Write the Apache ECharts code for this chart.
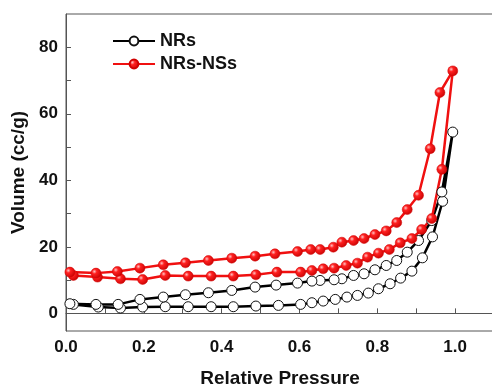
<!DOCTYPE html>
<html><head><meta charset="utf-8">
<script src="https://cdn.jsdelivr.net/npm/echarts@6/dist/echarts.min.js"></script>
<style>html,body{margin:0;padding:0;background:#fff}#c{width:492px;height:385px}</style>
</head><body><div id="c"></div>
<script>
// NRs: adsorption then desorption branch
const nrsAdsP = [0.019,0.083,0.140,0.197,0.255,0.314,0.373,0.430,0.488,0.546,0.603,0.632,0.661,0.692,0.722,0.749,0.777,0.803,0.833,0.860,0.889,0.916,0.942,0.968,0.994];
const nrsAdsV = [2.7,1.9,1.6,1.9,2.0,2.0,2.0,2.0,2.2,2.4,2.7,3.2,3.7,4.2,4.9,5.4,6.1,7.4,8.9,10.6,12.7,16.7,23.0,33.7,54.5];
const nrsDesP = [0.966,0.940,0.906,0.877,0.850,0.823,0.794,0.766,0.739,0.709,0.689,0.653,0.632,0.595,0.540,0.486,0.426,0.366,0.307,0.250,0.190,0.134,0.077,0.010];
const nrsDesV = [36.5,27.9,21.9,18.4,15.9,14.4,13.1,11.9,11.4,10.4,10.1,9.9,9.7,9.1,8.5,7.9,6.9,6.2,5.6,4.9,4.2,2.7,2.7,2.9];
// NRs-NSs: adsorption then desorption branch
const nssAdsP = [0.019,0.081,0.140,0.197,0.255,0.314,0.373,0.430,0.488,0.542,0.603,0.632,0.661,0.689,0.720,0.749,0.775,0.803,0.831,0.859,0.889,0.914,0.940,0.966,0.994];
const nssAdsV = [11.4,10.9,10.4,10.2,11.4,11.2,11.2,11.2,11.6,12.4,12.4,12.9,13.4,13.6,14.4,15.1,16.9,18.1,19.2,21.2,22.5,25.2,28.5,43.3,72.9];
const nssDesP = [0.961,0.936,0.906,0.877,0.850,0.823,0.794,0.766,0.739,0.709,0.687,0.653,0.629,0.595,0.537,0.486,0.426,0.366,0.307,0.250,0.190,0.132,0.077,0.010];
const nssDesV = [66.4,49.5,35.5,31.2,27.3,24.8,23.7,22.5,21.9,21.4,19.9,19.2,19.2,18.6,17.9,17.2,16.6,15.9,15.2,14.6,13.6,12.6,12.1,12.4];

const seriesNames = ['NRs','NRs-NSs'];
const xTickLabels = [0,0.2,0.4,0.6,0.8,1.0];
const xMinorTicks = [0,0.1,0.2,0.3,0.4,0.5,0.6,0.7,0.8,0.9,1.0];
const yTickLabels = [0,20,40,60,80];
const yMinorTicks = [0,10,20,30,40,50,60,70,80];

function pairs(p1,v1,p2,v2){
  const out=[];
  p1.forEach((p,i)=>out.push([p,v1[i]]));
  p2.forEach((p,i)=>out.push([p,v2[i]]));
  return out;
}
const font = "'Liberation Sans', Arial, sans-serif";
const axisCol = '#555';
const redBall = {type:'radial',x:0.35,y:0.35,r:0.75,colorStops:[
  {offset:0,color:'#ffc4c4'},{offset:0.3,color:'#ff2020'},{offset:1,color:'#c20000'}]};

const chart = echarts.init(document.getElementById('c'),null,{renderer:'canvas'});
chart.setOption({
  animation:false,
  backgroundColor:'#fff',
  grid:{left:66,top:14,width:428,height:317,outerBoundsMode:'none',containLabel:false,
    show:true,borderColor:axisCol,borderWidth:1,backgroundColor:'transparent'},
  legend:{
    orient:'vertical',left:112,top:32,padding:0,itemWidth:42,itemHeight:11,itemGap:5,
    textStyle:{fontFamily:font,fontWeight:'bold',fontSize:18,color:'#111'},
    data:seriesNames
  },
  xAxis:{
    type:'value',min:0,max:1.1,
    name:'Relative Pressure',nameLocation:'middle',nameGap:38,
    nameTextStyle:{fontFamily:font,fontWeight:'bold',fontSize:19,color:'#111'},
    axisLine:{show:true,lineStyle:{color:axisCol,width:1}},
    axisTick:{show:true,inside:true,length:5,lineStyle:{color:axisCol},customValues:xMinorTicks},
    axisLabel:{fontFamily:font,fontWeight:'bold',fontSize:17,color:'#111',margin:8,
      customValues:xTickLabels,formatter:v=>v.toFixed(1)},
    splitLine:{show:false}
  },
  yAxis:{
    type:'value',min:-5.3,max:90,
    name:'Volume (cc/g)',nameLocation:'middle',nameGap:33,nameRotate:90,
    nameTextStyle:{fontFamily:font,fontWeight:'bold',fontSize:19,color:'#111'},
    axisLine:{show:true,lineStyle:{color:axisCol,width:1}},
    axisTick:{show:true,inside:true,length:5,lineStyle:{color:axisCol},customValues:yMinorTicks},
    axisLabel:{fontFamily:font,fontWeight:'bold',fontSize:17,color:'#111',margin:8,
      customValues:yTickLabels,formatter:v=>String(v)},
    splitLine:{show:false}
  },
  series:[
    {name:seriesNames[0],type:'line',data:pairs(nrsAdsP,nrsAdsV,nrsDesP,nrsDesV),
     symbol:'circle',symbolSize:10,showAllSymbol:true,
     lineStyle:{color:'#000',width:2.5},
     itemStyle:{color:'#fff',borderColor:'#111',borderWidth:1}},
    {name:seriesNames[1],type:'line',data:pairs(nssAdsP,nssAdsV,nssDesP,nssDesV),
     symbol:'circle',symbolSize:10,showAllSymbol:true,
     lineStyle:{color:'#f01010',width:2.5},
     itemStyle:{color:redBall,borderColor:'#d00000',borderWidth:0.5}}
  ]
});
</script></body></html>
